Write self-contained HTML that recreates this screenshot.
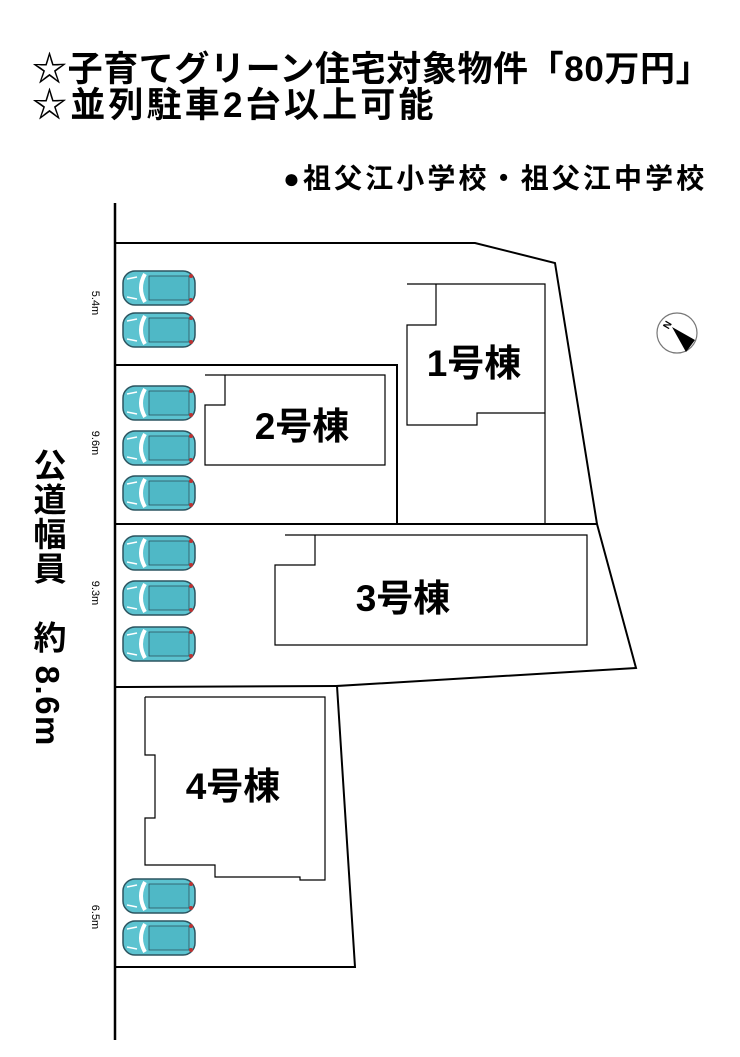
<!DOCTYPE html>
<html><head><meta charset="utf-8"><style>
body{margin:0;background:#fff;}
.t{position:absolute;font-family:"Liberation Sans","Noto Sans CJK JP",sans-serif;font-weight:bold;color:#000;white-space:nowrap;}
</style></head><body>
<div style="position:relative;width:740px;height:1057px;overflow:hidden">
<div class="t" style="left:32px;top:50px;font-size:35px;line-height:40px;letter-spacing:0.6px">☆子育てグリーン住宅対象物件「80万円」</div>
<div class="t" style="left:32px;top:86px;font-size:35px;line-height:40px;letter-spacing:3.2px">☆並列駐車2台以上可能</div>
<div class="t" style="left:283px;top:162px;font-size:28px;line-height:34px;letter-spacing:3.1px">●祖父江小学校・祖父江中学校</div>
<div class="t" style="left:28px;top:448px;font-size:33px;writing-mode:vertical-rl;line-height:38px;letter-spacing:1.5px">公道幅員　約 8.6m</div>
<svg width="740" height="1057" style="position:absolute;left:0;top:0" font-family="Liberation Sans, Noto Sans CJK JP, sans-serif">
<defs>
<g id="car">
<rect x="0" y="0" width="72" height="34" rx="12" fill="#5cc3d0" stroke="#2c5560" stroke-width="1.5"/>
<path d="M22 3 Q14 17 22 31" fill="none" stroke="#fff" stroke-width="4"/>
<rect x="26" y="5" width="40" height="24" fill="#4fb8c6" stroke="#2c5560" stroke-width="0.8"/>
<line x1="4" y1="8" x2="14" y2="6" stroke="#fff" stroke-width="1.5"/>
<line x1="4" y1="26" x2="14" y2="28" stroke="#fff" stroke-width="1.5"/>
<circle cx="68" cy="5" r="2" fill="#b33"/><circle cx="68" cy="29" r="2" fill="#b33"/>
</g>
</defs>
<g stroke="#000" fill="none">
<line x1="115" y1="203" x2="115" y2="1040" stroke-width="2.5"/>
<polyline points="115,243 475,243 555,263 597,524 636,668 337,686 355,967 115,967" stroke-width="2"/>
<polyline points="115,687 337,686" stroke-width="2"/>
<polyline points="115,365 397,365 397,524" stroke-width="2"/>
<line x1="115" y1="524" x2="597" y2="524" stroke-width="2"/>
<g stroke-width="1.2">
<polyline points="407,284 545,284 545,524"/>
<polyline points="436,284 436,325 407,325 407,425 477,425 477,413 545,413"/>
<polyline points="205,375 385,375 385,465 205,465 205,405 225,405 225,375"/>
<polyline points="285,535 587,535 587,645 275,645 275,565 315,565 315,535"/>
<polyline points="145,697 325,697 325,880 300,880 300,877 215,877 215,865 145,865 145,818 155,818 155,755 145,755 145,697"/>
</g>
</g>
<g>
<use href="#car" x="123" y="271"/><use href="#car" x="123" y="313"/>
<use href="#car" x="123" y="386"/><use href="#car" x="123" y="431"/><use href="#car" x="123" y="476"/>
<use href="#car" x="123" y="536"/><use href="#car" x="123" y="581"/><use href="#car" x="123" y="627"/>
<use href="#car" x="123" y="879"/><use href="#car" x="123" y="921"/>
</g>
<g font-size="11" fill="#000">
<text transform="translate(92,303) rotate(90)" text-anchor="middle">5.4m</text>
<text transform="translate(92,443) rotate(90)" text-anchor="middle">9.6m</text>
<text transform="translate(92,593) rotate(90)" text-anchor="middle">9.3m</text>
<text transform="translate(92,917) rotate(90)" text-anchor="middle">6.5m</text>
</g>
<g font-size="37" font-weight="bold" fill="#000" text-anchor="middle">
<text x="474" y="376">1号棟</text>
<text x="302" y="439">2号棟</text>
<text x="403" y="611">3号棟</text>
<text x="233" y="799">4号棟</text>
</g>
<circle cx="677" cy="333" r="20" fill="none" stroke="#777" stroke-width="1.2"/>
<polygon points="672,327 695,340 686,352" fill="#000"/>
<text x="664" y="330" font-size="10" font-weight="bold" transform="rotate(-60 666 326)">N</text>
</svg>
</div>
</body></html>
